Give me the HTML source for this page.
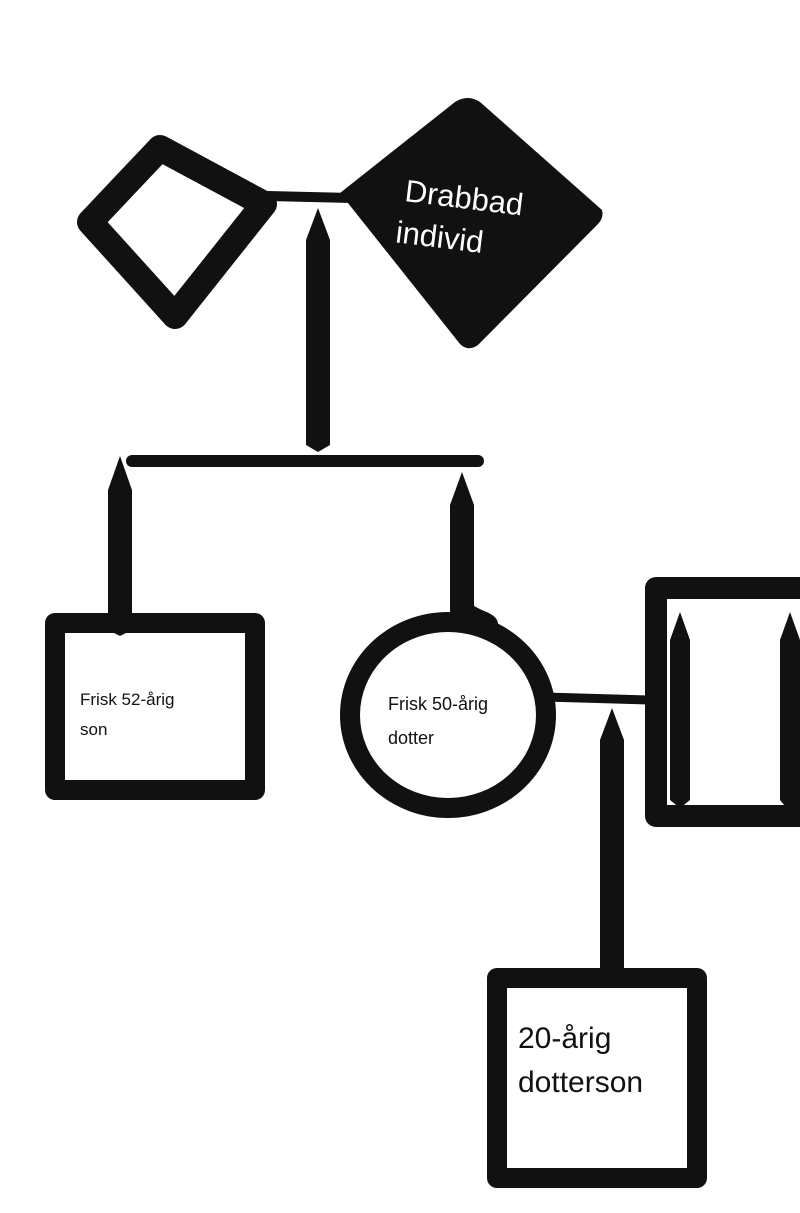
<!DOCTYPE html>
<html><head><meta charset="utf-8"><style>
html,body{margin:0;padding:0;background:#fff;}
svg{display:block}
text{font-family:"Liberation Sans",sans-serif;}
</style></head><body>
<svg width="800" height="1213" viewBox="0 0 800 1213" xmlns="http://www.w3.org/2000/svg">
<g fill="none" stroke="#111" stroke-linejoin="round" stroke-linecap="round">
<!-- left diamond -->
<path d="M160,148 L264,204 L175,316 L90,222 Z" stroke-width="26"/>
<!-- connector -->
<path d="M268,196 L352,198" stroke-width="10"/>
<!-- horizontal sibship -->
<path d="M132,461 L478,461" stroke-width="12"/>
<!-- left square -->
<rect x="55" y="623" width="200" height="167" stroke-width="20"/>
<!-- circle -->
<ellipse cx="448" cy="715" rx="98" ry="93" stroke-width="20"/>
<path d="M462,600 C470,620 500,615 490,630" stroke-width="12"/>
<!-- connector to spouse -->
<path d="M545,697 L650,700" stroke-width="9"/>
<!-- right square (cut) -->
<rect x="656" y="588" width="170" height="228" stroke-width="22"/>
<!-- bottom square -->
<rect x="497" y="978" width="200" height="200" stroke-width="20"/>
</g>
<g fill="#111">
<!-- filled diamond -->
<path d="M340,193 L455,102 Q468,94 480,102 L602,210 Q604,218 598,224 L478,345 Q468,352 460,344 Z"/>
<!-- tapered verticals -->
<polygon points="318,208 330,240 330,445 318,452 306,445 306,240"/>
<polygon points="120,456 132,490 132,630 120,636 108,630 108,490"/>
<polygon points="462,472 474,505 474,618 462,624 450,618 450,505"/>
<polygon points="612,708 624,740 624,970 612,978 600,970 600,740"/>
<polygon points="680,612 690,640 690,800 680,808 670,800 670,640"/>
<polygon points="790,612 800,640 800,810 790,812 780,800 780,640"/>
</g>
<g transform="rotate(7 460 220)">
<text x="402" y="208" font-size="31" fill="#fff">Drabbad</text>
<text x="398" y="250" font-size="31" fill="#fff">individ</text>
</g>
<text x="80" y="705" font-size="17" fill="#111">Frisk 52-årig</text>
<text x="80" y="735" font-size="17" fill="#111">son</text>
<text x="388" y="710" font-size="18" fill="#111">Frisk 50-årig</text>
<text x="388" y="744" font-size="18" fill="#111">dotter</text>
<text x="518" y="1048" font-size="30" fill="#111">20-årig</text>
<text x="518" y="1092" font-size="30" fill="#111">dotterson</text>
</svg>
</body></html>
